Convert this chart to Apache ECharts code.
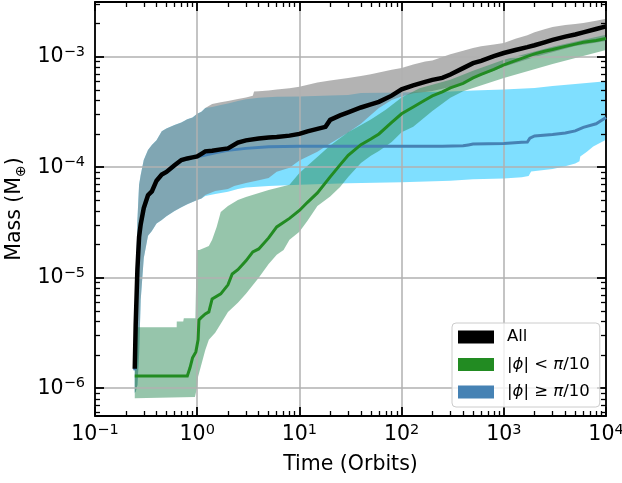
<!DOCTYPE html>
<html><head><meta charset="utf-8">
<script src="https://cdn.jsdelivr.net/npm/echarts@6/dist/echarts.min.js"></script>
<style>html,body{margin:0;padding:0;background:#fff}#c{width:622px;height:483px}</style>
</head><body><div id="c"></div>
<script>
// ---------- data (time in orbits, mass in Earth masses) ----------
const allMedT = [0.245,0.25,0.26,0.27,0.28,0.3,0.33,0.36,0.4,0.45,0.5,0.6,0.7,0.8,0.9,1,1.1,1.2,1.4,1.7,2,2.5,3,4,5,6,8,10,12,15,18,20,25,30,40,50,60,80,100,130,170,200,250,300,400,500,600,800,1000,1300,1700,2000,2500,3000,4000,5000,6000,8000,10000];
const allMed  = [1.5e-6,3.7e-6,1.19e-5,2.34e-5,3.04e-5,4.26e-5,5.57e-5,6.04e-5,7.55e-5,8.57e-5,9.05e-5,1.04e-4,1.16e-4,1.20e-4,1.227e-4,1.25e-4,1.32e-4,1.39e-4,1.41e-4,1.45e-4,1.48e-4,1.67e-4,1.75e-4,1.82e-4,1.86e-4,1.88e-4,1.93e-4,2.00e-4,2.11e-4,2.22e-4,2.32e-4,2.68e-4,2.94e-4,3.13e-4,3.47e-4,3.70e-4,3.90e-4,4.44e-4,5.06e-4,5.50e-4,5.91e-4,6.17e-4,6.43e-4,6.90e-4,7.88e-4,8.73e-4,9.16e-4,1.01e-3,1.08e-3,1.15e-3,1.22e-3,1.27e-3,1.35e-3,1.42e-3,1.52e-3,1.59e-3,1.66e-3,1.78e-3,1.88e-3];

const allHiT = [0.245,0.25,0.26,0.27,0.28,0.3,0.33,0.36,0.4,0.45,0.5,0.6,0.7,0.8,0.9,1,1.1,1.2,1.4,1.7,2,2.5,3,3.5,3.6,4,5,6,8,10,15,20,30,40,50,60,80,100,130,170,200,250,300,400,500,600,800,1000,1300,1700,2000,2500,3000,4000,5000,6000,8000,10000];
const allHi  = [1.19e-6,6.3e-6,3.33e-5,6.92e-5,8.51e-5,1.16e-4,1.43e-4,1.59e-4,1.75e-4,2.11e-4,2.24e-4,2.41e-4,2.54e-4,2.71e-4,2.82e-4,3.04e-4,3.17e-4,3.44e-4,3.74e-4,3.86e-4,3.98e-4,4.15e-4,4.28e-4,4.42e-4,4.83e-4,4.87e-4,4.95e-4,5.06e-4,5.17e-4,5.35e-4,5.85e-4,6.10e-4,6.43e-4,6.70e-4,6.92e-4,7.21e-4,7.60e-4,7.92e-4,8.52e-4,9.07e-4,9.26e-4,9.96e-4,1.05e-3,1.13e-3,1.20e-3,1.24e-3,1.29e-3,1.33e-3,1.45e-3,1.56e-3,1.66e-3,1.77e-3,1.86e-3,1.94e-3,1.98e-3,2.02e-3,2.11e-3,2.20e-3];
const allLoT = [0.245,0.25,0.26,0.27,0.28,0.3,0.33,0.36,0.4,0.45,0.5,0.6,0.7,0.8,0.9,1,1.1,1.2,1.5,2,2.3,3,4,5,6,8,10,15,20,25,30,40,50,60,80,100,130,170,200,300,500,1000,2000,5000,10000];
const allLo  = [9.07e-7,9.26e-7,1.07e-6,2.00e-6,6.30e-6,1.51e-5,2.39e-5,2.65e-5,3.10e-5,3.33e-5,3.59e-5,4.02e-5,4.33e-5,4.61e-5,4.85e-5,5.06e-5,5.22e-5,5.61e-5,6.10e-5,6.36e-5,6.77e-5,7.21e-5,7.60e-5,8.00e-5,9.07e-5,9.86e-5,1.15e-4,1.38e-4,1.64e-4,1.86e-4,2.06e-4,2.47e-4,2.97e-4,3.44e-4,4.06e-4,4.37e-4,4.66e-4,4.80e-4,4.90e-4,5.33e-4,6.30e-4,8.09e-4,9.96e-4,1.25e-3,1.39e-3];

const loMedT = [0.245,0.8,0.85,0.9,0.97,1.02,1.04,1.1,1.2,1.3,1.4,1.7,2,2.2,2.5,3,3.5,4,5,6,8,10,12,15,20,25,30,40,50,60,80,100,130,170,200,250,300,400,500,600,800,1000,1300,1700,2000,2500,3000,4000,5000,6000,8000,10000];
const loMed  = [1.29e-6,1.29e-6,1.53e-6,1.88e-6,2.13e-6,2.74e-6,4.15e-6,4.37e-6,4.70e-6,4.90e-6,6.43e-6,7.14e-6,8.61e-6,1.08e-5,1.18e-5,1.42e-5,1.71e-5,1.82e-5,2.29e-5,2.88e-5,3.44e-5,4.06e-5,4.81e-5,5.85e-5,8.17e-5,1.05e-4,1.28e-4,1.60e-4,1.80e-4,2.00e-4,2.54e-4,3.04e-4,3.51e-4,4.06e-4,4.42e-4,4.80e-4,5.22e-4,5.73e-4,6.43e-4,6.92e-4,7.67e-4,8.43e-4,9.20e-4,1.006e-3,1.06e-3,1.12e-3,1.16e-3,1.24e-3,1.30e-3,1.35e-3,1.40e-3,1.46e-3];
const loHiT = [0.245,0.63,0.631,0.73,0.74,0.96,0.99,1.05,1.3,1.4,1.55,1.7,2,2.5,3,5,8,10,12,20,30,50,70,100,150,300,500,1000,3000,10000];
const loHi  = [3.56e-6,3.56e-6,4.01e-6,4.01e-6,4.30e-6,4.30e-6,1.78e-5,1.78e-5,1.94e-5,2.20e-5,2.88e-5,3.94e-5,4.46e-5,5.06e-5,5.38e-5,6.23e-5,6.92e-5,8.88e-5,1.03e-4,1.57e-4,2.07e-4,2.70e-4,3.31e-4,4.28e-4,5.17e-4,6.17e-4,7.45e-4,9.36e-4,1.23e-3,1.58e-3];
const loLoT = [0.245,0.95,1.0,1.02,1.2,1.3,1.5,1.7,2,2.5,3,4,5,6,7,8,10,12,15,20,25,30,40,50,60,80,100,130,200,300,400,1000,3000,10000];
const loLo  = [8.12e-7,8.34e-7,1.03e-6,1.27e-6,2.22e-6,2.74e-6,3.17e-6,3.82e-6,4.90e-6,5.92e-6,7.14e-6,9.96e-6,1.33e-5,1.61e-5,1.78e-5,2.20e-5,2.60e-5,3.28e-5,4.46e-5,5.42e-5,6.63e-5,8.17e-5,1.09e-4,1.27e-4,1.40e-4,1.69e-4,2.07e-4,2.32e-4,3.23e-4,4.24e-4,4.87e-4,6.43e-4,8.60e-4,1.15e-3];

const hiMedT = [0.245,0.25,0.26,0.27,0.28,0.3,0.33,0.36,0.4,0.45,0.5,0.6,0.7,0.8,0.9,1,1.2,1.5,2,3,5,10,50,250,400,450,500,1000,1500,1700,1800,2000,3000,4000,5000,6000,8000,10000];
const hiMed  = [1.45e-6,3.6e-6,1.15e-5,2.3e-5,3.0e-5,4.2e-5,5.5e-5,6.0e-5,7.5e-5,8.5e-5,9.0e-5,1.03e-4,1.15e-4,1.19e-4,1.22e-4,1.24e-4,1.29e-4,1.35e-4,1.42e-4,1.48e-4,1.53e-4,1.55e-4,1.55e-4,1.55e-4,1.56e-4,1.59e-4,1.62e-4,1.64e-4,1.68e-4,1.69e-4,1.83e-4,1.92e-4,1.98e-4,2.04e-4,2.13e-4,2.29e-4,2.47e-4,2.82e-4];
const hiHiT = [0.245,0.25,0.26,0.27,0.28,0.3,0.33,0.36,0.4,0.45,0.5,0.6,0.7,0.8,0.9,1,1.1,1.2,1.4,1.7,2,2.5,3,3.5,4,6,10,20,30,40,100,300,500,1000,2000,3000,5000,10000];
const hiHi  = [1.19e-6,6.3e-6,3.33e-5,6.92e-5,8.51e-5,1.16e-4,1.43e-4,1.59e-4,1.75e-4,2.11e-4,2.24e-4,2.41e-4,2.54e-4,2.71e-4,2.82e-4,3.04e-4,3.17e-4,3.44e-4,3.51e-4,3.66e-4,3.78e-4,3.98e-4,4.11e-4,4.19e-4,4.24e-4,4.33e-4,4.37e-4,4.46e-4,4.51e-4,4.70e-4,4.75e-4,4.85e-4,4.95e-4,5.06e-4,5.22e-4,5.44e-4,5.67e-4,5.98e-4];
const hiLoT = [0.245,0.25,0.26,0.27,0.28,0.3,0.33,0.36,0.4,0.45,0.5,0.6,0.7,0.8,0.9,1,1.1,1.2,1.5,2,2.5,3,5,10,30,100,300,500,1000,1500,1750,1850,3000,4000,5000,5500,5600,6500,7500,10000];
const hiLo  = [9.07e-7,9.26e-7,1.07e-6,2.00e-6,6.30e-6,1.51e-5,2.39e-5,2.65e-5,3.10e-5,3.33e-5,3.59e-5,4.02e-5,4.33e-5,4.61e-5,4.85e-5,5.06e-5,5.22e-5,5.50e-5,5.73e-5,5.98e-5,6.36e-5,6.56e-5,6.77e-5,6.92e-5,7.17e-5,7.29e-5,7.52e-5,7.76e-5,7.92e-5,8.12e-5,8.34e-5,9.12e-5,9.65e-5,1.02e-4,1.08e-4,1.13e-4,1.25e-4,1.38e-4,1.54e-4,1.77e-4];

const seriesNames = ['All', '|ϕ| < π/10', '|ϕ| ≥ π/10'];
const xMajor = [0.1, 1, 10, 100, 1000, 10000];
const yMajor = [1e-6, 1e-5, 1e-4, 1e-3];
const X_MIN = 0.1, X_MAX = 10000, Y_MIN = 5.6e-7, Y_MAX = 3.126e-3;

// minor tick positions (2..9 x decade)
const xMinor = [], yMinor = [];
for (let e = -1; e <= 3; e++) for (let m = 2; m <= 9; m++) xMinor.push(+(m * Math.pow(10, e)).toPrecision(6));
for (let e = -7; e <= -3; e++) for (let m = 2; m <= 9; m++) { const v = +(m * Math.pow(10, e)).toPrecision(6); if (v > Y_MIN && v < Y_MAX) yMinor.push(v); }

// ---------- chart ----------
const FONT = 'DejaVu Sans';
const zip = (a, b) => a.map((t, i) => [t, b[i]]);

function band(name, tHi, vHi, tLo, vLo, color) {
  return {
    type: 'custom', name, z: 1, silent: true, xAxisIndex: 0, yAxisIndex: 0,
    data: zip(tLo, vLo),
    renderItem: (params, api) => {
      if (params.dataIndex !== 0) return null;
      const pts = [];
      for (let i = 0; i < tLo.length; i++) pts.push(api.coord([tLo[i], vLo[i]]));
      for (let i = tHi.length - 1; i >= 0; i--) pts.push(api.coord([tHi[i], vHi[i]]));
      return { type: 'polygon', shape: { points: pts }, style: { fill: color } };
    }
  };
}
function line(name, t, v, color, width) {
  return {
    type: 'line', name, z: 3, data: zip(t, v), showSymbol: false, symbol: 'none',
    itemStyle: { color }, lineStyle: { color, width, cap: 'butt', join: 'miter' },
    animation: false, silent: true
  };
}
const supLabel = v => {
  const e = Math.round(Math.log10(v));
  return '{b|10}{s|' + (e < 0 ? '\u2212' + (-e) : String(e)) + '}';
};
const labRich = {
  b: { fontSize: 20.5, fontFamily: FONT, color: '#000', lineHeight: 24 },
  s: { fontSize: 14.5, fontFamily: FONT, color: '#000', lineHeight: 14, verticalAlign: 'top' }
};
const axisLineStyle = { color: '#000', width: 1.8 };
function xAx(pos, major, withLabel) {
  return {
    type: 'log', logBase: 10, min: X_MIN, max: X_MAX, position: pos, z: 2,
    axisLine: { show: major, lineStyle: axisLineStyle },
    axisTick: { show: true, inside: true, length: major ? 9 : 5, customValues: major ? xMajor : xMinor,
                lineStyle: { color: '#000', width: major ? 1.8 : 1.3 } },
    minorTick: { show: false },
    axisLabel: withLabel ? { show: true, customValues: xMajor, margin: 7, formatter: supLabel, rich: labRich } : { show: false },
    splitLine: withLabel ? { show: true, lineStyle: { color: '#b0b0b0', width: 1.5 } } : { show: false },
    name: withLabel ? 'Time (Orbits)' : '', nameLocation: 'middle', nameGap: 38.3, nameMoveOverlap: false,
    nameTextStyle: { fontSize: 20.5, fontFamily: FONT, color: '#000' }
  };
}
function yAx(pos, major, withLabel) {
  return {
    type: 'log', logBase: 10, min: Y_MIN, max: Y_MAX, position: pos, z: 2,
    axisLine: { show: major, lineStyle: axisLineStyle },
    axisTick: { show: true, inside: true, length: major ? 9 : 5, customValues: major ? yMajor : yMinor,
                lineStyle: { color: '#000', width: major ? 1.8 : 1.3 } },
    minorTick: { show: false },
    axisLabel: withLabel ? { show: true, customValues: yMajor, margin: 10, formatter: supLabel, rich: labRich } : { show: false },
    splitLine: withLabel ? { show: true, lineStyle: { color: '#b0b0b0', width: 1.5 } } : { show: false },
    name: withLabel ? 'Mass (M{sub|⊕})' : '', nameLocation: 'middle', nameGap: 67, nameMoveOverlap: false,
    nameTextStyle: { fontSize: 20.5, fontFamily: FONT, color: '#000', lineHeight: 26,
      rich: { sub: { fontSize: 14, fontFamily: FONT, color: '#000', lineHeight: 14, verticalAlign: 'bottom' } } }
  };
}

const option = {
  animation: false,
  backgroundColor: '#fff',
  grid: { left: 95, right: 16, top: 2, bottom: 67, containLabel: false, outerBoundsMode: 'none' },
  xAxis: [xAx('bottom', true, true), xAx('bottom', false, false), xAx('top', true, false), xAx('top', false, false)],
  yAxis: [yAx('left', true, true), yAx('left', false, false), yAx('right', true, false), yAx('right', false, false)],
  legend: {
    data: seriesNames, orient: 'vertical', left: 452, top: 323, z: 10,
    icon: 'rect', itemWidth: 36, itemHeight: 13, itemGap: 9.5,
    padding: [5, 10, 6, 6],
    backgroundColor: 'rgba(255,255,255,0.8)', borderColor: '#cccccc', borderWidth: 1, borderRadius: 4,
    itemStyle: { borderWidth: 0 },
    textStyle: { fontSize: 16.5, fontFamily: FONT, color: '#000', lineHeight: 18, padding: [0, 0, 0, 8],
      rich: { i: { fontSize: 16.5, fontFamily: FONT, fontStyle: 'italic', color: '#000' } } },
    formatter: n => n.replace(/([ϕπ])/g, '{i|$1}'),
    selectedMode: false
  },
  series: [
    band('hiBand', hiHiT, hiHi, hiLoT, hiLo, 'rgba(0,191,255,0.5)'),
    band('allBand', allHiT, allHi, allLoT, allLo, 'rgba(128,128,128,0.6)'),
    band('loBand', loHiT, loHi, loLoT, loLo, 'rgba(46,139,87,0.5)'),
    line(seriesNames[2], hiMedT, hiMed, '#4682b4', 3),
    line(seriesNames[1], loMedT, loMed, '#228b22', 3),
    line(seriesNames[0], allMedT, allMed, '#000000', 4.5)
  ]
};
const chart = echarts.init(document.getElementById('c'), null, { renderer: 'canvas' });
chart.setOption(option);
</script></body></html>
